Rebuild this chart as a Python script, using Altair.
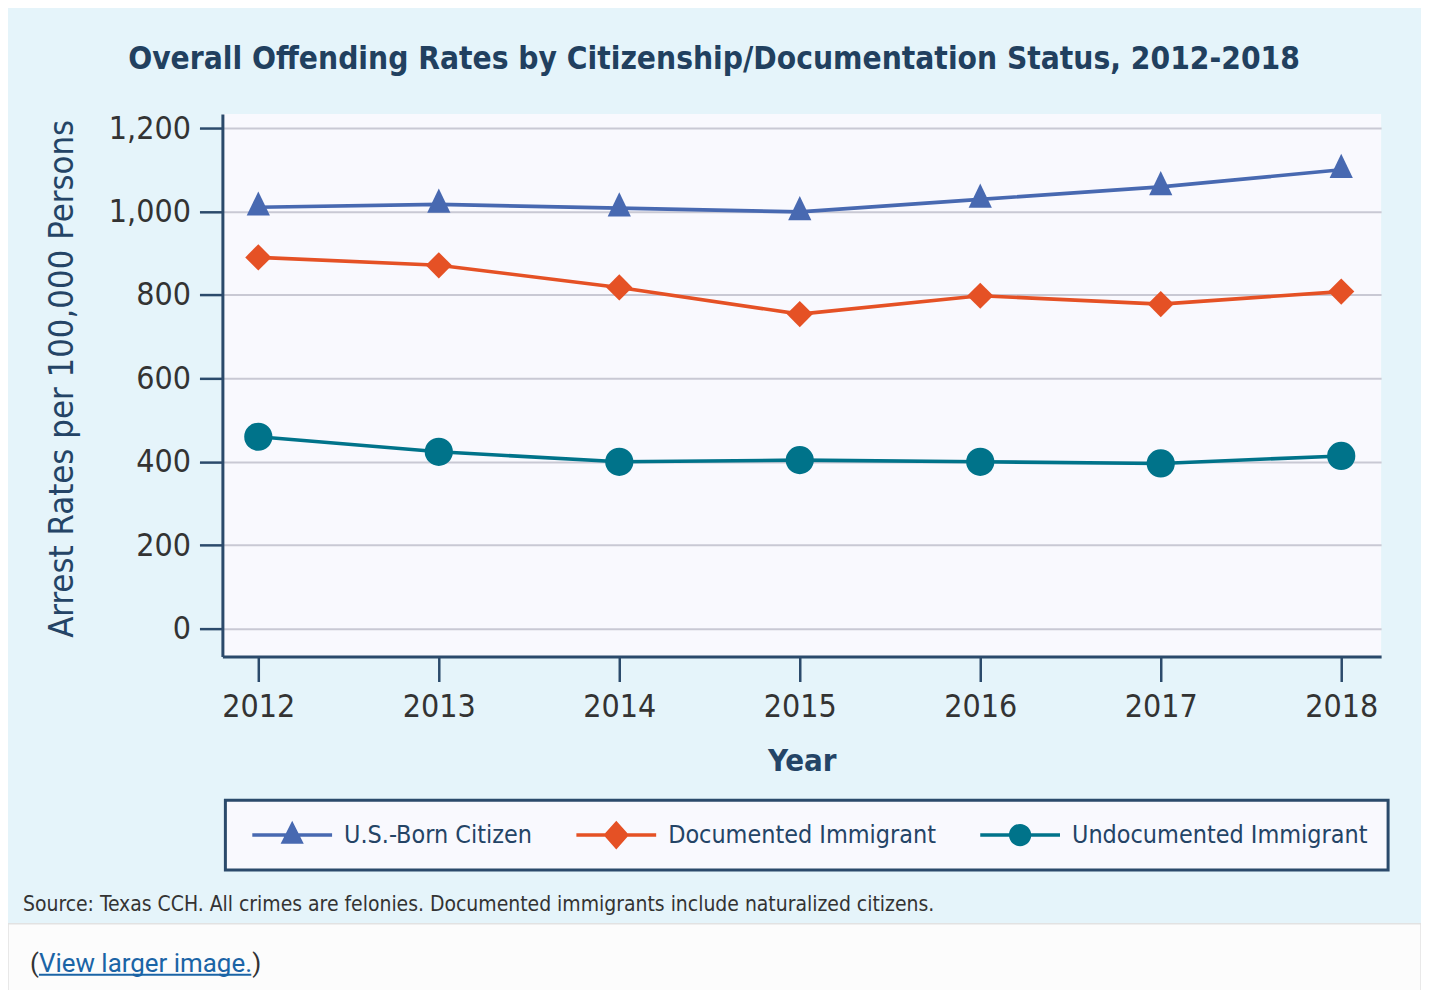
import altair as alt
import pandas as pd

# ---- data ----
years = [2012, 2013, 2014, 2015, 2016, 2017, 2018]
series_names = ["U.S.-Born Citizen", "Documented Immigrant", "Undocumented Immigrant"]
us_born = [1010, 1017, 1008, 999, 1029, 1059, 1100]
documented = [890, 871, 818, 754, 798, 778, 808]
undocumented = [460, 424, 400, 404, 400, 396, 414]
y_ticks = [0, 200, 400, 600, 800, 1000, 1200]

title_text = "Overall Offending Rates by Citizenship/Documentation Status, 2012-2018"
y_title = "Arrest Rates per 100,000 Persons"
x_title = "Year"
source_text = "Source: Texas CCH. All crimes are felonies. Documented immigrants include naturalized citizens."
link_text = "View larger image."

colors = ["#4869b1", "#e55125", "#00738a"]

rows = []
for name, vals in zip(series_names, [us_born, documented, undocumented]):
    for yr, v in zip(years, vals):
        rows.append({"year": yr, "rate": v, "series": name})
df = pd.DataFrame(rows)

NARROW = "DejaVu Sans Condensed, DejaVu Sans, sans-serif"
NAVY = "#244466"
AXIS = "#2b4a6b"

x_enc = alt.X("year:Q", scale=alt.Scale(domain=[2011.801, 2018.221], nice=False, zero=False),
              axis=alt.Axis(values=years, format="d", title=x_title, grid=False,
                            tickSize=25, labelPadding=10, titlePadding=24))
y_enc = alt.Y("rate:Q", scale=alt.Scale(domain=[-66.9, 1233.5], nice=False, zero=False),
              axis=alt.Axis(values=y_ticks, format=",.0f", title=y_title, grid=True,
                            tickSize=23, labelPadding=9, titlePadding=29, titleY=265))

color_line = alt.Color("series:N", scale=alt.Scale(domain=series_names, range=colors), legend=None)

# background strip for the area under the panel
strip = alt.Chart(pd.DataFrame({"a": [0]})).mark_rect(
    fill="#fcfcfc", stroke="#e2e2e2", strokeWidth=1.5
).encode(x=alt.value(-215), x2=alt.value(1202), y=alt.value(812), y2=alt.value(900))

lines = alt.Chart(df).mark_line(strokeWidth=3.6).encode(x=x_enc, y=y_enc, color=color_line)

tri_path = "M0,-1.33L0.97,0.69L-0.97,0.69Z"
points = alt.Chart(df).mark_point(filled=True, opacity=1, strokeWidth=0, size=560).encode(
    x=x_enc, y=y_enc,
    color=alt.Color("series:N", scale=alt.Scale(domain=series_names, range=colors), legend=None),
    shape=alt.Shape("series:N", scale=alt.Scale(domain=series_names,
                                                range=[tri_path, "diamond", "circle"]), legend=None),
    size=alt.Size("series:N", scale=alt.Scale(domain=series_names, range=[576, 800, 529]), legend=None),
)

bar = "M-1,-0.045H1V0.045H-1Z "
leg_paths = [
    bar + "M0,-0.36L0.29,0.22L-0.29,0.22Z",
    bar + "M0,-0.36L0.32,0L0,0.36L-0.32,0Z",
    bar + "M0.28,0A0.28,0.28 0 1,1 -0.28,0A0.28,0.28 0 1,1 0.28,0Z",
]
legend_def = alt.Legend(
    title=None, orient="none", legendX=3, legendY=688, direction="horizontal",
    symbolSize=6400, clipHeight=30, symbolStrokeWidth=0, symbolOpacity=1,
    labelFont=NARROW, labelFontSize=25, labelColor=NAVY, labelOffset=12, labelLimit=500,
    labelBaseline="middle",
    columnPadding=37, padding=20, strokeColor=AXIS, fillColor="#f9f9fe",
    cornerRadius=0, symbolOffset=7,
)
legend_layer = alt.Chart(df).transform_filter("datum.rate < -100000").mark_point(
    filled=True, strokeWidth=0
).encode(
    x=x_enc, y=y_enc,
    color=alt.Color("series:N", scale=alt.Scale(domain=series_names, range=colors), legend=legend_def),
    shape=alt.Shape("series:N", scale=alt.Scale(domain=series_names, range=leg_paths), legend=legend_def),
)

source = alt.Chart(pd.DataFrame({"t": [source_text]})).mark_text(
    font=NARROW, fontSize=21, color="#333333", align="left", baseline="alphabetic"
).encode(text="t:N", x=alt.value(-200), y=alt.value(799))

lp = alt.Chart(pd.DataFrame({"t": ["("]})).mark_text(
    font="Roboto", fontSize=26, color="#333333", align="left", baseline="alphabetic"
).encode(text="t:N", x=alt.value(-193), y=alt.value(860))
link = alt.Chart(pd.DataFrame({"t": [link_text]})).mark_text(
    font="Roboto", fontSize=26, color="#1b64a6", align="left", baseline="alphabetic"
).encode(text="t:N", x=alt.value(-184), y=alt.value(860))
underline = alt.Chart(pd.DataFrame({"a": [0]})).mark_rule(color="#1b64a6", strokeWidth=2).encode(
    x=alt.value(-184), x2=alt.value(29), y=alt.value(863))
rp = alt.Chart(pd.DataFrame({"t": [")"]})).mark_text(
    font="Roboto", fontSize=26, color="#333333", align="left", baseline="alphabetic"
).encode(text="t:N", x=alt.value(30), y=alt.value(860))

chart = alt.layer(
    strip, lines, points, legend_layer, source, lp, link, underline, rp
).resolve_scale(
    color="independent", shape="independent", size="independent"
).properties(
    width=1162, height=544,
    title=alt.TitleParams(title_text, font=NARROW, fontSize=31.5, fontWeight="bold", color="#21405f",
                          anchor="middle", frame="group", dx=-88, offset=12, baseline="alphabetic"),
    autosize=alt.AutoSizeParams(type="none"),
    padding={"left": 215, "top": 105, "right": 40, "bottom": 333},
).configure(
    background="#e5f4fa",
).configure_view(
    fill="#f9f9fe", stroke=None,
).configure_legend(
    strokeWidth=3,
).configure_axis(
    domainColor=AXIS, domainWidth=3, tickColor=AXIS, tickWidth=2.5,
    gridColor="#c9c9d4", gridWidth=2,
    labelFont=NARROW, labelFontSize=32, labelColor="#333333",
    titleFont=NARROW, titleColor=NAVY,
).configure_axisY(
    titleFontSize=34.5, titleFontWeight="normal",
).configure_axisX(
    titleFontSize=31, titleFontWeight="bold",
)

chart.save("out.html", embed_options={"renderer": "svg", "actions": False})
